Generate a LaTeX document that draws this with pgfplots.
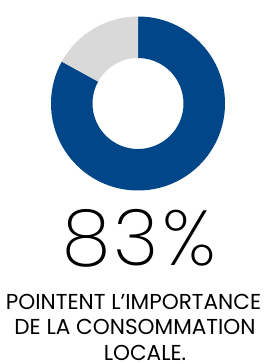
\documentclass[border=0pt]{standalone}
\usepackage{pgfplots}
\pgfplotsset{compat=1.18}
\usepackage{fontspec}
\setmainfont{Poppins}
\newfontfamily\thinfont{Poppins}[UprightFont={* ExtraLight}]
\definecolor{donutblue}{RGB}{0,70,137}
\definecolor{donutgrey}{RGB}{217,217,217}
\begin{document}
\begin{tikzpicture}[x=1pt,y=1pt]
\path[use as bounding box] (0,0) rectangle (267,364);
\begin{axis}[at={(138pt,260.5pt)}, anchor=center, hide axis, scale only axis,
  width=174pt, height=174pt, xmin=-1, xmax=1, ymin=-1, ymax=1, clip=false]
\pgfmathsetmacro{\share}{83}
\pgfmathsetmacro{\endang}{90-3.6*\share}
\fill[donutblue] (axis cs:0,0) ++(90:87pt) arc[start angle=90, end angle=\endang, radius=87pt]
  -- ++(\endang:-41.5pt) arc[start angle=\endang, end angle=90, radius=45.5pt] -- cycle;
\fill[donutgrey] (axis cs:0,0) ++(\endang:87pt) arc[start angle=\endang, end angle=-270, radius=87pt]
  -- ++(-270:-41.5pt) arc[start angle=-270, end angle=\endang, radius=45.5pt] -- cycle;
\end{axis}
\node[anchor=base, inner sep=0pt, font=\thinfont\fontsize{78}{78}\selectfont] at (139,98) {8\hspace{3pt}3\hspace{4pt}\%};
\node[anchor=base, inner sep=0pt, font=\fontsize{21.6}{21.6}\selectfont] at (133.5,54) {POINTENT L’IMPORTANCE};
\node[anchor=base, inner sep=0pt, font=\fontsize{21.6}{21.6}\selectfont] at (135,29) {DE LA CONSOMMATION};
\node[anchor=base, inner sep=0pt, font=\fontsize{21.6}{21.6}\selectfont] at (145,4) {LOCALE.};
\end{tikzpicture}
\end{document}
